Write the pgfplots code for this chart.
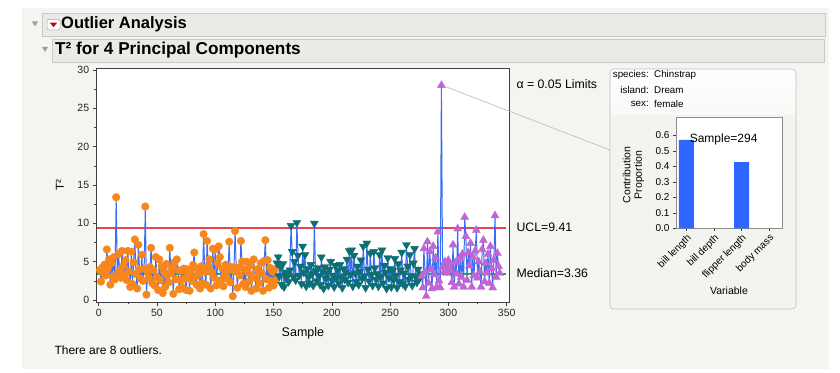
\documentclass[border=0pt]{standalone}
\usepackage{fontspec}
\setmainfont{Liberation Sans}
\usepackage{pgfplots}
\usepackage{pgfplotstable}
\pgfplotsset{compat=1.18}
\definecolor{bgpanel}{HTML}{F4F4F1}
\definecolor{hdr}{HTML}{EAEAE7}
\definecolor{hdrline}{HTML}{C8C8C6}
\definecolor{jorange}{HTML}{F7861C}
\definecolor{jteal}{HTML}{0E6F73}
\definecolor{jpurple}{HTML}{C064D6}
\definecolor{jblue}{HTML}{3A6EF2}
\definecolor{jred}{HTML}{EA4352}
\definecolor{jgreen}{HTML}{22B422}
\definecolor{jbar}{HTML}{2E66FF}
\pgfplotstableread{
x y
1 3.9
2 2.4
3 4.2
4 3.5
5 4.6
6 3.2
7 6.6
8 4.1
9 5.3
10 2.0
11 4.8
12 3.1
13 5.6
14 2.7
15 13.4
16 3.0
17 6.0
18 3.8
19 2.9
20 6.4
21 4.4
22 3.3
23 5.2
24 2.6
25 6.4
26 3.7
27 1.7
28 6.3
29 2.1
30 4.9
31 7.9
32 3.4
33 1.5
34 7.2
35 4.0
36 2.8
37 5.9
38 2.5
39 4.1
40 12.2
41 0.7
42 3.6
43 2.9
44 4.3
45 6.8
46 2.2
47 3.9
48 1.9
49 5.6
50 3.0
51 1.3
52 5.3
53 2.6
54 4.4
55 0.9
56 3.7
57 1.7
58 4.7
59 3.2
60 2.3
61 6.8
62 3.5
63 4.2
64 0.8
65 4.9
66 2.7
67 5.3
68 3.9
69 1.4
70 2.6
71 3.8
72 1.6
73 4.1
74 2.8
75 1.3
76 4.0
77 3.4
78 1.2
79 3.9
80 2.5
81 4.6
82 6.2
83 3.1
84 2.0
85 4.1
86 3.3
87 1.5
88 4.4
89 2.2
90 8.6
91 3.7
92 2.0
93 7.7
94 4.4
95 5.3
96 1.5
97 3.6
98 6.7
99 2.9
100 6.6
101 1.9
102 4.8
103 7.0
104 5.6
105 2.6
106 4.1
107 1.8
108 3.4
109 4.6
110 2.8
111 3.9
112 7.6
113 2.3
114 4.3
115 0.5
116 3.8
117 9.0
118 4.2
119 1.6
120 4.2
121 3.2
122 7.7
123 5.0
124 2.1
125 4.0
126 1.7
127 5.0
128 3.6
129 2.4
130 4.5
131 1.2
132 3.1
133 5.3
134 2.9
135 1.5
136 4.0
137 3.3
138 2.2
139 4.8
140 3.5
141 1.2
142 5.1
143 7.8
144 2.7
145 5.2
146 1.6
147 4.2
148 2.5
149 3.7
150 1.9
151 4.0
152 2.6
153 4.8
154 5.6
155 3.1
156 4.4
157 2.0
158 4.7
159 1.7
160 3.6
161 2.9
162 3.3
163 2.4
164 3.9
165 9.7
166 6.3
167 3.0
168 5.0
169 2.6
170 10.1
171 5.8
172 3.2
173 4.4
174 2.1
175 7.0
176 3.6
177 5.9
178 1.8
179 4.1
180 3.0
181 2.2
182 4.6
183 3.4
184 1.9
185 10.0
186 3.8
187 2.5
188 4.2
189 3.1
190 2.0
191 5.6
192 3.7
193 1.5
194 4.3
195 2.8
196 3.5
197 1.9
198 4.0
199 5.0
200 2.6
201 3.2
202 1.7
203 4.5
204 2.9
205 3.9
206 2.2
207 4.6
208 3.0
209 1.6
210 4.1
211 2.7
212 3.6
213 5.3
214 2.3
215 6.4
216 3.3
217 6.5
218 1.8
219 5.8
220 3.5
221 2.4
222 4.4
223 2.0
224 3.7
225 5.2
226 2.8
227 7.0
228 3.1
229 1.6
230 7.4
231 4.0
232 2.5
233 6.1
234 3.3
235 1.9
236 6.3
237 4.2
238 2.7
239 3.4
240 1.8
241 5.9
242 3.0
243 6.5
244 2.2
245 4.5
246 3.6
247 1.5
248 5.5
249 2.9
250 4.1
251 1.7
252 3.8
253 2.6
254 5.4
255 3.2
256 1.6
257 4.7
258 2.4
259 3.9
260 6.2
261 2.1
262 3.5
263 1.8
264 7.2
265 4.4
266 2.7
267 5.9
268 3.1
269 1.9
270 4.8
271 6.7
272 3.0
273 2.3
274 4.0
275 2.8
276 3.4
277 3.1
278 1.6
279 6.7
280 3.6
281 0.5
282 7.6
283 2.2
284 6.3
285 4.0
286 1.5
287 7.0
288 3.3
289 5.5
290 1.7
291 8.9
292 2.5
293 1.6
294 28.0
295 4.3
296 3.6
297 5.0
298 4.2
299 3.5
300 5.2
301 4.6
302 3.8
303 2.3
304 7.2
305 1.7
306 4.9
307 3.4
308 9.3
309 2.1
310 5.4
311 3.0
312 6.0
313 1.7
314 10.8
315 8.3
316 2.6
317 6.2
318 4.5
319 7.4
320 1.7
321 5.6
322 3.2
323 6.4
324 9.1
325 2.9
326 5.0
327 3.7
328 1.7
329 6.6
330 7.8
331 2.4
332 4.8
333 3.5
334 6.0
335 2.2
336 7.0
337 4.1
338 1.6
339 5.2
340 11.0
341 3.0
342 6.1
343 4.4
344 3.5
}\tdata
\begin{document}
\begin{tikzpicture}[x=1pt,y=1pt]
\useasboundingbox (0,0) rectangle (840,372);
\fill[white] (0,0) rectangle (840,372);
\fill[bgpanel] (22,3) rectangle (829,364);
% headers
\filldraw[fill=hdr, draw=hdrline, line width=0.6pt] (42,336) rectangle (825,359);
\filldraw[fill=hdr, draw=hdrline, line width=0.6pt] (52,310) rectangle (824,333);
\fill[gray!75] (32,350.5) -- (38,350.5) -- (35,345.5) -- cycle;
\fill[gray!75] (42,325) -- (48,325) -- (45,320) -- cycle;
\filldraw[fill=white, draw=gray!70, rounded corners=1.5pt, line width=0.5pt] (47,342) rectangle (60,352.5);
\fill[red!80!black] (49.8,349.4) -- (57.2,349.4) -- (53.5,344.8) -- cycle;
\node[anchor=west, inner sep=0pt, font=\fontsize{16.5}{18}\selectfont\bfseries] at (61,347.5) {Outlier Analysis};
\node[anchor=west, inner sep=0pt, font=\fontsize{17.2}{19}\selectfont\bfseries] at (55,321.5) {T² for 4 Principal Components};
% right panel
\shade[top color=white, bottom color=bgpanel!60, rounded corners=4pt] (610,257) rectangle (796,303);
\fill[bgpanel!85!hdr] (612,65) rectangle (791,257);
\draw[draw=gray!50, rounded corners=4pt, line width=0.6pt] (610,63) rectangle (796,303);
% main axis
\begin{axis}[
  at={(96.7pt,70pt)}, anchor=south west, scale only axis,
  width=412.3pt, height=234pt,
  xmin=-1.7, xmax=352, ymin=-0.26, ymax=30.26,
  xtick={0,50,...,350}, ytick={0,5,...,30},
  minor x tick num=1, minor y tick num=1,
  tick align=outside, tick pos=left,
  major tick length=4pt, minor tick length=2.5pt,
  tick style={black!75, line width=0.5pt},
  axis line style={black!75, line width=0.7pt},
  axis background/.style={fill=white},
  ticklabel style={font=\fontsize{10.5}{12}\selectfont, text=black!85},
  /pgf/number format/assume math mode=true,
]
\addplot[jgreen, line width=1.6pt] coordinates {(-1.7,3.36) (349,3.36)};
\addplot[jred, line width=1.6pt] coordinates {(-1.7,9.41) (349,9.41)};
\addplot[jblue, line width=1pt, no marks] table[x=x, y=y] {\tdata};
\addplot[only marks, mark=*, mark size=3.8pt, draw=jorange, fill=jorange, restrict x to domain=0:152.5] table[x=x, y=y] {\tdata};
\addplot[only marks, mark=triangle*, mark size=4.6pt, draw=jteal, fill=jteal, mark options={rotate=180}, restrict x to domain=152.5:276.5] table[x=x, y=y] {\tdata};
\addplot[only marks, mark=triangle*, mark size=4.6pt, draw=jpurple, fill=jpurple, restrict x to domain=276.5:350] table[x=x, y=y] {\tdata};
\end{axis}
\node[rotate=90, font=\fontsize{11.5}{13}\selectfont] at (60,187) {T²};
\node[font=\fontsize{12.5}{14}\selectfont] at (302.9,39) {Sample};
\node[anchor=west, font=\fontsize{12.3}{14}\selectfont] at (513,288) {α = 0.05 Limits};
\node[anchor=west, font=\fontsize{12.3}{14}\selectfont] at (513,145) {UCL=9.41};
\node[anchor=west, font=\fontsize{12.3}{14}\selectfont] at (513,99) {Median=3.36};
\node[anchor=west, font=\fontsize{12}{14}\selectfont] at (51,22) {There are 8 outliers.};
\draw[gray!55, line width=0.6pt] (445.7,285.3) -- (610,222);
% panel text
\begin{scope}[font=\fontsize{9.8}{12}\selectfont]
\node[anchor=east, inner xsep=0pt] at (649,297) {species:};
\node[anchor=west, inner xsep=0pt] at (654,297) {Chinstrap};
\node[anchor=east, inner xsep=0pt] at (649,282) {island:};
\node[anchor=west, inner xsep=0pt] at (654,282) {Dream};
\node[anchor=east, inner xsep=0pt] at (649,268) {sex:};
\node[anchor=west, inner xsep=0pt] at (654,268) {female};
\end{scope}
% bar chart
\begin{axis}[
  at={(676pt,143.5pt)}, anchor=south west, scale only axis,
  width=106pt, height=111pt,
  xmin=-0.38, xmax=3.47, ymin=0, ymax=0.716,
  ybar, bar width=15pt,
  xtick={0,1,2,3}, xticklabels={bill length, bill depth, flipper length, body mass},
  x tick label style={rotate=45, anchor=north east, inner sep=1pt, font=\fontsize{10}{11}\selectfont},
  ytick={0,0.1,...,0.6},
  y tick label style={/pgf/number format/fixed, /pgf/number format/fixed zerofill, /pgf/number format/precision=1, font=\fontsize{10}{12}\selectfont},
  tick align=outside, tick pos=left, major tick length=3pt,
  tick style={black!75, line width=0.5pt},
  axis line style={black!45, line width=0.6pt},
  axis background/.style={fill=white},
  /pgf/number format/assume math mode=true,
  clip=false,
]
\addplot[fill=jbar, draw=none] coordinates {(0,0.572) (2,0.428)};
\node[font=\fontsize{12}{14}\selectfont] at (axis cs:1.35,0.575) {Sample=294};
\end{axis}
\node[rotate=90, align=center, font=\fontsize{10.5}{11.5}\selectfont] at (633.5,197) {Contribution\\Proportion};
\node[font=\fontsize{10.5}{12}\selectfont] at (729,81) {Variable};
\end{tikzpicture}
\end{document}
